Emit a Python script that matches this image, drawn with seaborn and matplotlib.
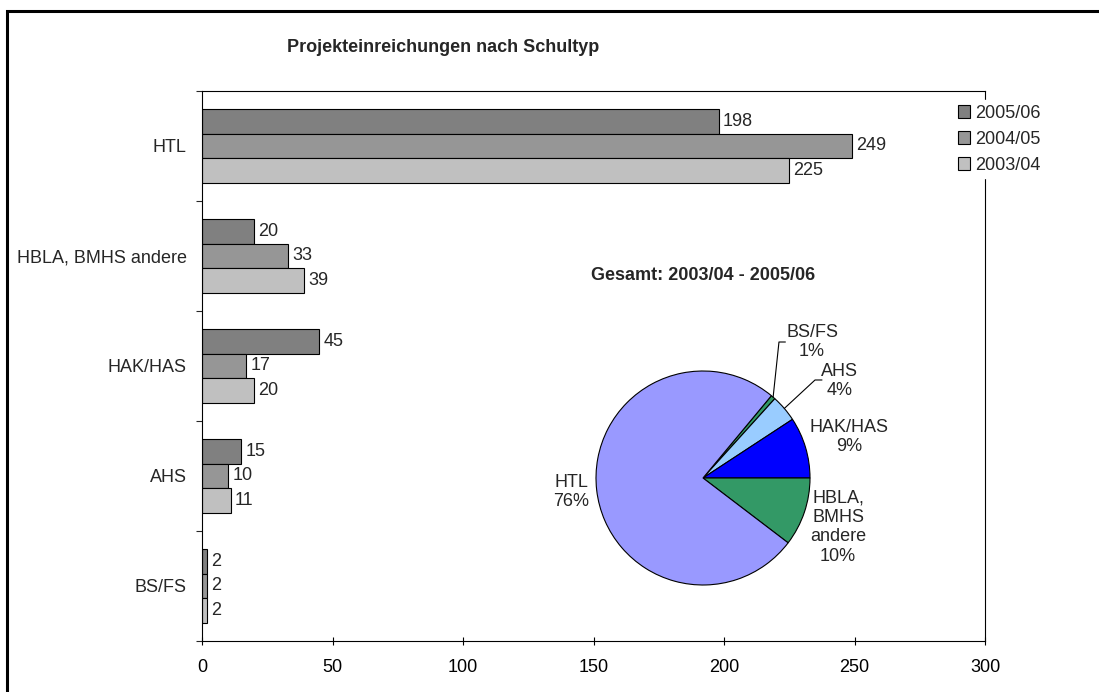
import numpy as np
import pandas as pd
import matplotlib
matplotlib.use("Agg")
import matplotlib.pyplot as plt
import seaborn as sns
from matplotlib.patches import Rectangle

# Daten
schultyp = ["HTL", "HBLA, BMHS andere", "HAK/HAS", "AHS", "BS/FS"]
jahre = ["2005/06", "2004/05", "2003/04"]
werte_0506 = [198, 20, 45, 15, 2]
werte_0405 = [249, 33, 17, 10, 2]
werte_0304 = [225, 39, 20, 11, 2]
x_ticks = [0, 50, 100, 150, 200, 250, 300]

# Farben
farben_balken = ["#808080", "#969696", "#C0C0C0"]
farben_torte = {"HTL": "#9999FF", "HBLA, BMHS andere": "#339966",
                "HAK/HAS": "#0000FF", "AHS": "#99CCFF", "BS/FS": "#339966"}

sns.set_theme(style="white")
plt.rcParams["font.family"] = ["Liberation Sans", "DejaVu Sans"]
FS = 13

df = pd.DataFrame({
    "Schultyp": schultyp * 3,
    "Jahr": np.repeat(jahre, len(schultyp)),
    "Anzahl": werte_0506 + werte_0405 + werte_0304,
})

W, H = 1099, 692
fig = plt.figure(figsize=(W / 100, H / 100), dpi=100)
ax = fig.add_axes([202 / W, 1 - 641 / H, (985 - 202) / W, (641 - 91) / H])

sns.barplot(data=df, x="Anzahl", y="Schultyp", hue="Jahr", hue_order=jahre,
            order=schultyp, palette=farben_balken, orient="h", width=0.67,
            edgecolor="black", linewidth=0.8, ax=ax)

for cont in ax.containers:
    ax.bar_label(cont, padding=3, fontsize=FS)

ax.set_xlim(0, 300)
ax.set_xticks(x_ticks)
ax.set_ylim(len(schultyp) - 0.5, -0.5)
ax.set_yticks(np.arange(-0.5, len(schultyp), 1), minor=True)
ax.tick_params(axis="x", which="major", direction="inout", length=6, width=0.8,
               pad=10, labelsize=FS, colors="black", bottom=True)
ax.tick_params(axis="y", which="major", length=0, pad=11, labelsize=FS)
ax.tick_params(axis="y", which="minor", direction="out", length=4, width=0.8, left=True)
ax.set_xlabel("")
ax.set_ylabel("")
for sp in ax.spines.values():
    sp.set_color("black")
    sp.set_linewidth(0.8)

handles, labels = ax.get_legend_handles_labels()
leg = ax.legend(handles, labels, loc="upper left", bbox_to_anchor=(953 / W, 1 - 100 / H),
                bbox_transform=fig.transFigure, fontsize=FS, frameon=True, fancybox=False,
                edgecolor="white", facecolor="white", framealpha=1, borderpad=0.25,
                handlelength=0.7, handleheight=0.7, handletextpad=0.3, labelspacing=0.5,
                borderaxespad=0)

fig.text(443 / W, 1 - 47 / H, "Projekteinreichungen nach Schultyp", ha="center",
         va="center", fontsize=FS, fontweight="bold")

# Kreisdiagramm gesamt
summen = [a + b + c for a, b, c in zip(werte_0506, werte_0405, werte_0304)]
reihenfolge = schultyp[::-1]
werte_torte = [summen[schultyp.index(s)] for s in reihenfolge]
gesamt = sum(werte_torte)
start = 360 * sum(werte_torte[:3]) / gesamt

pax = fig.add_axes([596 / W, 1 - 585 / H, 214 / W, 214 / H])
wedges, _ = pax.pie(werte_torte, colors=[farben_torte[s] for s in reihenfolge],
                    startangle=start, counterclock=False,
                    wedgeprops=dict(edgecolor="black", linewidth=0.8))
pax.set_xlim(-1, 1)
pax.set_ylim(-1, 1)

lab_pos = {"HTL": (-1.234, -0.131), "HBLA, BMHS andere": (1.262, -0.458),
           "HAK/HAS": (1.364, 0.383), "AHS": (1.28, 0.907), "BS/FS": (1.019, 1.271)}
leader = {"AHS": [(1.047, 0.916), (1.112, 0.916)],
          "BS/FS": [(0.71, 1.271), (0.77, 1.271)]}

for w, s, v in zip(wedges, reihenfolge, werte_torte):
    name = s.replace(", ", ",\n").replace(" ", "\n")
    px, py = lab_pos[s]
    pax.text(px, py, f"{name}\n{v / gesamt:.0%}", ha="center", va="center",
             fontsize=FS, multialignment="center")
    if s in leader:
        mid = np.deg2rad((w.theta1 + w.theta2) / 2)
        pts = [(np.cos(mid), np.sin(mid))] + leader[s]
        pax.plot([p[0] for p in pts], [p[1] for p in pts], color="black",
                 lw=0.8, clip_on=False)

fig.text(703 / W, 1 - 275 / H, "Gesamt: 2003/04 - 2005/06", ha="center",
         va="center", fontsize=FS, fontweight="bold")

# Rahmen
fig.add_artist(Rectangle((7 / W, -0.1), 1.2, 1.1 - 11 / H, transform=fig.transFigure,
                         fill=False, edgecolor="black", linewidth=2.2))

fig.savefig("out.png", dpi=100)
